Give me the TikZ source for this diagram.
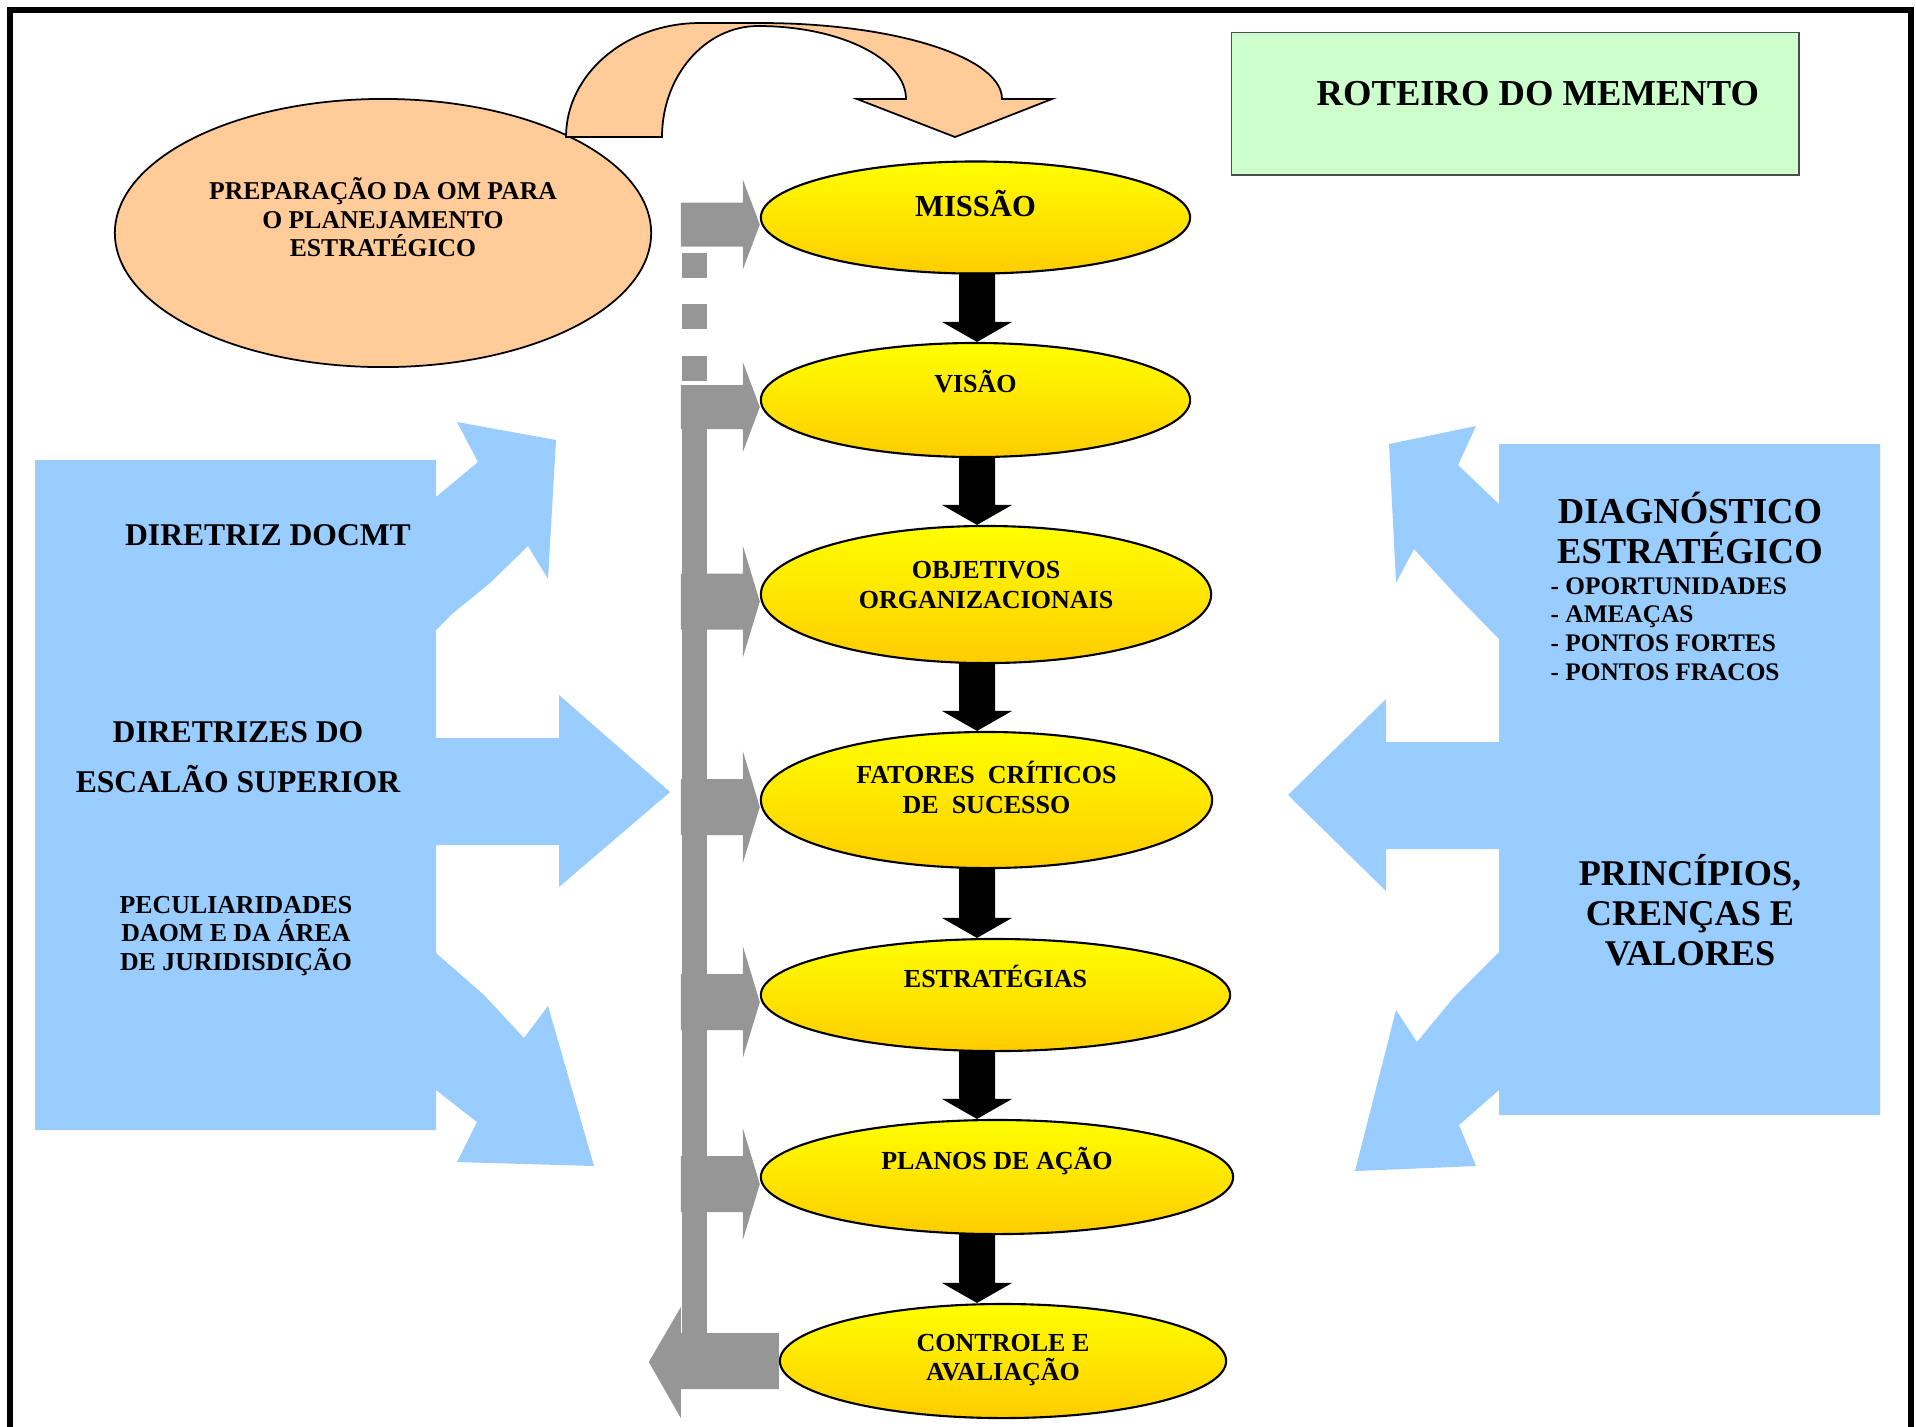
\documentclass[tikz,border=0pt]{standalone}
\usepackage{fontspec}
\setmainfont{Liberation Serif}
\usetikzlibrary{shapes.geometric,calc}

\definecolor{pessego}{HTML}{FFCC99}
\definecolor{verdeclaro}{HTML}{CCFFCC}
\definecolor{azulclaro}{HTML}{99CCFF}
\definecolor{cinza}{HTML}{969696}
\definecolor{ouro}{HTML}{FFCC00}

\tikzset{
	etapa/.style={ellipse, draw=black, line width=0.6pt, top color=yellow, bottom color=ouro, inner sep=0pt},
	rotulo/.style={font=\bfseries\fontsize{7.4pt}{8.3pt}\selectfont, align=center, inner sep=0pt},
	barra/.style={fill=cinza},
	bloco/.style={fill=azulclaro},
}

\newcommand{\blkarrow}[2]{%
	\fill ($(#1.south -| eixo)+(-18,-2)$) -- ($(#2.north -| eixo)+(-18,-20)$) -- ($(#2.north -| eixo)+(-35,-20)$) -- (#2.north -| eixo) -- ($(#2.north -| eixo)+(35,-20)$) -- ($(#2.north -| eixo)+(18,-20)$) -- ($(#1.south -| eixo)+(18,-2)$) -- cycle;}

\begin{document}
\begin{tikzpicture}[x=0.01cm, y=-0.01cm]
	\useasboundingbox (0,0) rectangle (1916,1426);
	\draw[line width=1.7pt] (10,10) rectangle (1911,1480);

	\fill[bloco] (35,460) -- (436,460) -- (436,497) -- (478,462) -- (457,422) -- (556,440) -- (548,579) -- (528,546) -- (490,583) -- (452,614) -- (436,630) -- (436,738) -- (559,738) -- (559,695) -- (670,792) -- (559,887) -- (559,845) -- (436,845) -- (436,953) -- (484,995) -- (524,1038) -- (548,1006) -- (594,1166) -- (457,1162) -- (477,1122) -- (436,1090) -- (436,1130) -- (35,1130) -- cycle;
	\fill[bloco] (1499,444) -- (1880,444) -- (1880,1115) -- (1499,1115) -- (1499,1090) -- (1459,1125) -- (1476,1166) -- (1355,1171) -- (1396,1010) -- (1417,1042) -- (1454,997) -- (1499,952) -- (1499,849) -- (1386,849) -- (1386,891) -- (1288,795) -- (1386,699) -- (1386,742) -- (1499,742) -- (1499,639) -- (1455,594) -- (1414,549) -- (1396,583) -- (1389,444) -- (1476,426) -- (1458,465) -- (1499,504) -- cycle;

	\node[ellipse, draw=black, line width=0.5pt, fill=pessego, minimum width=5.36cm, minimum height=2.68cm, inner sep=0pt,
		label={[rotulo, font=\bfseries\fontsize{7.3pt}{8.1pt}\selectfont, yshift=4.4pt]center:PREPARAÇÃO DA OM PARA\\O PLANEJAMENTO\\ESTRATÉGICO}] (prep) at (383,233) {};
	\draw[fill=pessego, line width=0.5pt] (566,137) .. controls (566,74) and (626,23) .. (700,23) -- (760,23) .. controls (894,23) and (1002,57) .. (1002,99) -- (1052,99) -- (955,137) -- (857,99) -- (906,99) .. controls (906,59) and (840,26) .. (758,26) .. controls (705,26) and (662,76) .. (662,137) -- cycle;

	\node[draw=black!70, line width=0.4pt, fill=verdeclaro, minimum width=5.67cm, minimum height=1.42cm, anchor=north west, inner sep=0pt,
		label={[font=\bfseries\fontsize{10.4pt}{12pt}\selectfont, inner sep=0pt, xshift=6.4pt, yshift=3pt]center:ROTEIRO DO MEMENTO}] (titulo) at (1231,32) {};

	\node[etapa, minimum width=4.29cm, minimum height=1.12cm, label={[rotulo, font=\bfseries\fontsize{8.7pt}{10pt}\selectfont, yshift=4pt]center:MISSÃO}] (mis) at (975.5,217.5) {};
	\node[etapa, minimum width=4.29cm, minimum height=1.14cm, label={[rotulo, yshift=5.3pt]center:VISÃO}] (vis) at (975.5,400) {};
	\node[etapa, minimum width=4.50cm, minimum height=1.37cm, label={[rotulo, yshift=2.7pt]center:OBJETIVOS\\ORGANIZACIONAIS}] (obj) at (986,594.5) {};
	\node[etapa, minimum width=4.51cm, minimum height=1.36cm, label={[rotulo, yshift=3.6pt]center:FATORES\ \ CRÍTICOS\\DE\ \ SUCESSO}] (fat) at (986.5,800) {};
	\node[etapa, minimum width=4.69cm, minimum height=1.12cm, label={[rotulo, yshift=5.3pt]center:ESTRATÉGIAS}] (est) at (995.5,995) {};
	\node[etapa, minimum width=4.72cm, minimum height=1.14cm, label={[rotulo, yshift=4.5pt]center:PLANOS DE AÇÃO}] (pla) at (997,1177) {};
	\node[etapa, minimum width=4.46cm, minimum height=1.14cm, label={[rotulo, yshift=0.2pt]center:CONTROLE E\\AVALIAÇÃO}] (con) at (1003,1361) {};

	\foreach \e/\s/\h in {mis/22/45, vis/22/45, obj/28/56, fat/28/56, est/28/56, pla/28/56} {
		\fill[barra] ([yshift=-2pt]\e.west) -- ++(-17,-\h) -- ++(0,\h-\s) -- ++(-62,0) -- ++(0,2*\s) -- ++(62,0) -- ++(0,\h-\s) -- cycle;
	}
	\foreach \y in {253,304,356} {
		\fill[barra] (682,\y) rectangle ++(25,25);
	}
	\fill[barra] (682,385) rectangle (707,1340);
	\fill[barra] (con.west) -- ++(0,-28) -- ++(-98,0) -- ++(0,-26) -- ++(-32,55) -- ++(32,56) -- ++(0,-29) -- ++(98,0) -- cycle;

	\coordinate (eixo) at (977,0);
	\foreach \a/\b in {mis/vis, vis/obj, obj/fat, fat/est, est/pla, pla/con} {
		\blkarrow{\a}{\b}
	}

	\node[font=\bfseries\fontsize{9pt}{14.2pt}\selectfont, inner sep=0pt] (docmt) at (268,535) {DIRETRIZ DOCMT};
	\node[font=\bfseries\fontsize{9pt}{14.2pt}\selectfont, align=center, inner sep=0pt] (escsup) at (238,757) {DIRETRIZES DO\\ESCALÃO SUPERIOR};
	\node[font=\bfseries\fontsize{7.35pt}{8.1pt}\selectfont, align=center, inner sep=0pt] (peculiar) at (236,936) {PECULIARIDADES\\DAOM E DA ÁREA\\DE JURIDISDIÇÃO};
	\node[font=\bfseries\fontsize{10.4pt}{11.4pt}\selectfont, align=center, inner sep=0pt] (diag) at (1690,528) {DIAGNÓSTICO\\ESTRATÉGICO};
	\node[font=\bfseries\fontsize{7.2pt}{8.2pt}\selectfont, align=left, anchor=west, inner sep=0pt] (lista) at (1550,629) {- OPORTUNIDADES\\- AMEAÇAS\\- PONTOS FORTES\\- PONTOS FRACOS};
	\node[font=\bfseries\fontsize{10.3pt}{11.4pt}\selectfont, align=center, inner sep=0pt] (princ) at (1690,910) {PRINCÍPIOS,\\CRENÇAS E\\VALORES};
\end{tikzpicture}
\end{document}
